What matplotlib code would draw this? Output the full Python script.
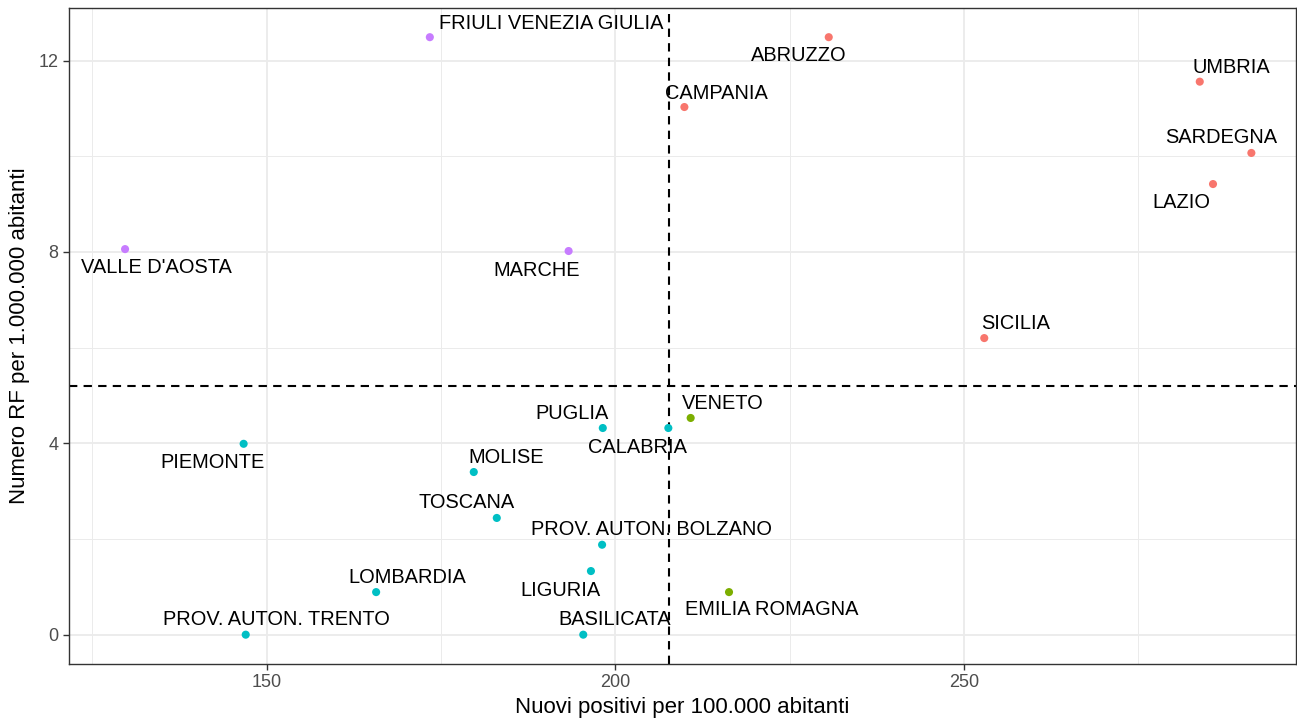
import matplotlib.pyplot as plt
import numpy as np

plt.rcParams['font.family'] = ['Liberation Sans', 'DejaVu Sans']

# data
regioni = ['FRIULI VENEZIA GIULIA', 'ABRUZZO', 'CAMPANIA', 'UMBRIA', 'SARDEGNA',
           'LAZIO', "VALLE D'AOSTA", 'MARCHE', 'SICILIA', 'PUGLIA', 'CALABRIA',
           'VENETO', 'PIEMONTE', 'MOLISE', 'TOSCANA', 'PROV. AUTON. BOLZANO',
           'LIGURIA', 'LOMBARDIA', 'EMILIA ROMAGNA', 'PROV. AUTON. TRENTO',
           'BASILICATA']
positivi = np.array([173.4, 230.6, 209.9, 283.8, 291.2,
                     285.7, 129.7, 193.3, 252.9, 198.2, 207.6,
                     210.8, 146.7, 179.7, 183.0, 198.1,
                     196.5, 165.7, 216.3, 147.0,
                     195.4])
rf = np.array([12.49, 12.49, 11.03, 11.56, 10.07,
               9.42, 8.06, 8.02, 6.20, 4.32, 4.32,
               4.53, 3.99, 3.40, 2.44, 1.88,
               1.33, 0.89, 0.89, 0.0,
               0.0])
media_positivi = 207.7
media_rf = 5.2

# label offsets in pixels (repel-like placement)
label_offsets = [(121, 14), (-30, -18), (32, 14), (32, 14), (-30, 15),
                 (-32, -18), (31, -18), (-32, -19), (31, 15), (-31, 15), (-31, -19),
                 (32, 14), (-31, -19), (32, 15), (-30, 15), (49, 15),
                 (-30, -19), (31, 15), (43, -17), (31, 15),
                 (31, 15)]

# quadrant colours (ggplot default hues)
cols = {(True, True): '#F8766D', (True, False): '#7CAE00',
        (False, False): '#00BFC4', (False, True): '#C77CFF'}
colori = [cols[(x > media_positivi, y > media_rf)] for x, y in zip(positivi, rf)]

fig = plt.figure(figsize=(12.97, 7.18), dpi=100)
ax = fig.add_axes([69/1297, 54/718, 1227/1297, 656/718])

ax.set_xlim(121.66, 297.6)
ax.set_ylim(-0.613, 13.1)

ax.set_xticks([150, 200, 250])
ax.set_xticks([125, 175, 225, 275], minor=True)
ax.set_yticks([0, 4, 8, 12])
ax.set_yticks([2, 6, 10], minor=True)
ax.grid(which='major', color='#EBEBEB', lw=1.3, zorder=0)
ax.grid(which='minor', color='#EBEBEB', lw=0.7, zorder=0)
ax.set_axisbelow(True)

ax.axvline(media_positivi, color='black', ls=(0, (4, 3)), lw=1.5, zorder=2)
ax.axhline(media_rf, color='black', ls=(0, (4, 3)), lw=1.5, zorder=2)

ax.scatter(positivi, rf, c=colori, s=34, linewidths=0, zorder=3)

for nome, x, y, (dx, dy) in zip(regioni, positivi, rf, label_offsets):
    ax.annotate(nome, (x, y), xytext=(dx, dy), textcoords='offset pixels',
                ha='center', va='center', fontsize=14.4, color='black', zorder=4)

for s in ax.spines.values():
    s.set_color('#333333')
    s.set_linewidth(1.0)
ax.tick_params(which='major', length=4, color='#333333', labelcolor='#4D4D4D',
               labelsize=13, width=1)
ax.tick_params(which='minor', length=0)

ax.set_xlabel('Nuovi positivi per 100.000 abitanti', fontsize=16, labelpad=4)
ax.set_ylabel('Numero RF per 1.000.000 abitanti', fontsize=16, labelpad=6)

fig.savefig('out.png', dpi=100)
